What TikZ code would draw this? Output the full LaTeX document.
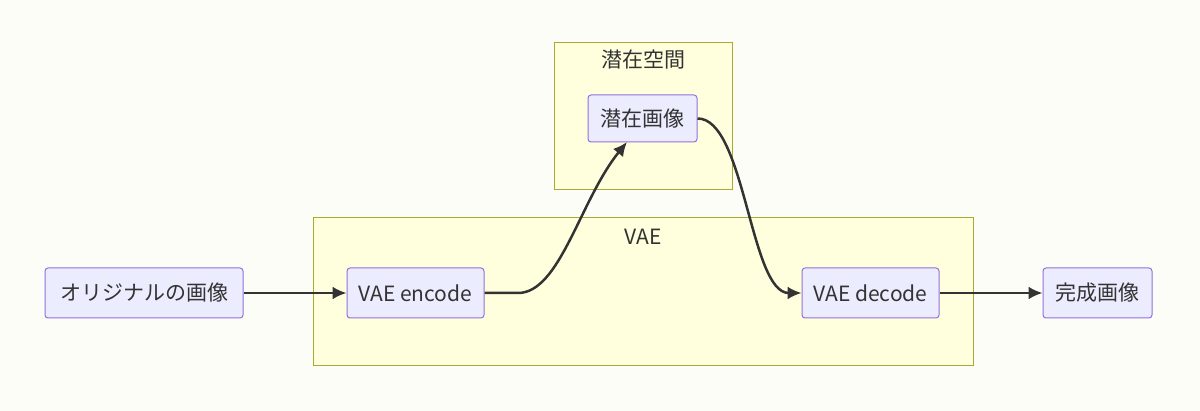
\documentclass[tikz,border=0pt]{standalone}
\usepackage{fontspec}
\setmainfont{Noto Sans CJK JP}
\usetikzlibrary{arrows.meta}
\definecolor{bg}{HTML}{FDFDF8}
\definecolor{clf}{HTML}{FFFFDE}
\definecolor{cls}{HTML}{AAAA33}
\definecolor{ndf}{HTML}{ECECFF}
\definecolor{nds}{HTML}{9370DB}
\definecolor{ed}{HTML}{333333}
\begin{document}
\begin{tikzpicture}[x=1pt,y=-1pt,
  nd/.style={draw=nds,fill=ndf,rounded corners=3pt,line width=1pt,minimum height=50pt,inner xsep=8pt,font=\fontsize{21}{24}\selectfont,text=ed},
  cl/.style={draw=cls,fill=clf,line width=1pt},
  lbl/.style={font=\fontsize{21}{24}\selectfont,text=ed},
  ar/.style={draw=ed,line width=2.5pt,-{Latex[length=14pt,width=13pt]}}]
\fill[bg] (0,0) rectangle (1200,411);
\useasboundingbox (0,0) rectangle (1200,411);
\draw[cl] (554,43) rectangle (732,190);
\node[lbl] (l1) at (643,60) {潜在空間};
\draw[cl] (313,218) rectangle (973,366);
\node[lbl] (l2) at (643,237) {VAE};
\node[nd,minimum width=198pt] (orig) at (144,293) {オリジナルの画像};
\node[nd,minimum width=137pt] (enc) at (415.5,293) {VAE encode};
\node[nd,minimum width=109pt,minimum height=47pt] (lat) at (642.5,118.5) {潜在画像};
\node[nd,minimum width=137pt] (dec) at (870.5,293) {VAE decode};
\node[nd,minimum width=109pt] (done) at (1097.5,293) {完成画像};
\draw[ar] (orig) -- (enc);
\draw[ar] (enc.east) -- (518,293) .. controls (560,293) and (580,200) .. (627,142);
\draw[ar] (lat.east) .. controls (745,118) and (750,293) .. (dec.west);
\draw[ar] (dec) -- (done);
\end{tikzpicture}
\end{document}
